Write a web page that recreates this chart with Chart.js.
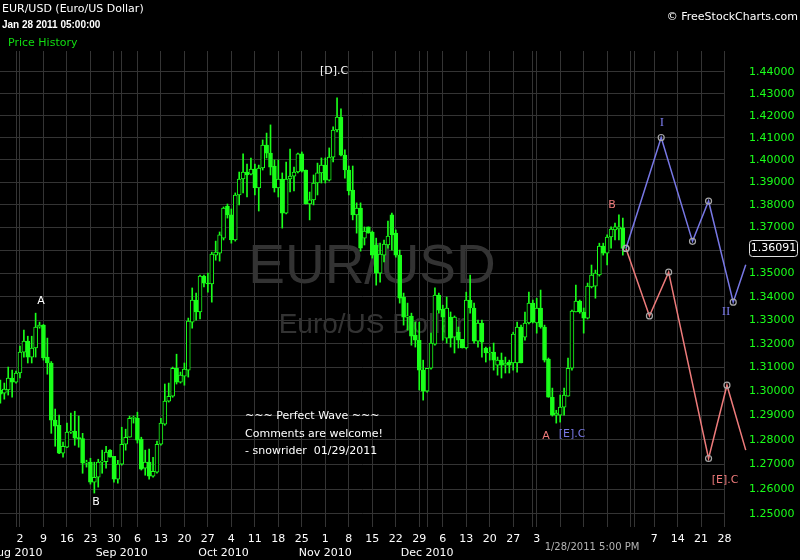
<!DOCTYPE html>
<html>
<head>
<meta charset="utf-8">
<title>EUR/USD (Euro/US Dollar)</title>
<script src="https://cdn.jsdelivr.net/npm/chart.js@4.4.0/dist/chart.umd.min.js"></script>
<style>
  html, body { margin: 0; padding: 0; background: #000; }
  #wrap { width: 800px; height: 560px; position: relative; background: #000; }
</style>
</head>
<body>
<div id="wrap"><canvas id="fxChart"></canvas></div>
<script>
// --- data: daily EUR/USD bars, 6 slots a week (Sun..Fri), slot 1 = Mon 2 Aug 2010 ---
const firstSlot = -4;

const opens = [
  1.3006, 1.2993, 1.3006, 1.3056, 1.3039, 1.3077, 1.3165, 1.3211, 1.3144, 1.3182,
  1.3271, 1.3279, 1.3144, 1.3119, 1.2881, 1.2860, 1.2746, 1.2770, 1.2832, 1.2836,
  1.2807, 1.2805, 1.2705, 1.2709, 1.2628, 1.2648, 1.2709, 1.2711, 1.2758, 1.2733,
  1.2640, 1.2701, 1.2782, 1.2811, 1.2889, 1.2889, 1.2803, 1.2685, 1.2709, 1.2652,
  1.2668, 1.2782, 1.2865, 1.2960, 1.2980, 1.3097, 1.3039, 1.3064, 1.3089, 1.3292,
  1.3386, 1.3335, 1.3489, 1.3459, 1.3455, 1.3580, 1.3589, 1.3654, 1.3795, 1.3756,
  1.3646, 1.3844, 1.3915, 1.3946, 1.3937, 1.3959, 1.3875, 1.3964, 1.4067, 1.4031,
  1.3973, 1.3875, 1.3915, 1.3764, 1.3915, 1.3928, 1.3946, 1.4027, 1.3955, 1.3804,
  1.3822, 1.3897, 1.3942, 1.3977, 1.3910, 1.4013, 1.4135, 1.4194, 1.4022, 1.3955,
  1.3866, 1.3756, 1.3786, 1.3654, 1.3703, 1.3681, 1.3624, 1.3502, 1.3580, 1.3624,
  1.3756, 1.3676, 1.3580, 1.3399, 1.3313, 1.3318, 1.3237, 1.3215, 1.3089, 1.3001,
  1.3097, 1.3198, 1.3407, 1.3347, 1.3224, 1.3313, 1.3228, 1.3249, 1.3219, 1.3182,
  1.3386, 1.3352, 1.3211, 1.3288, 1.3182, 1.3161, 1.3165, 1.3110, 1.3131, 1.3110,
  1.3123, 1.3119, 1.3119, 1.3271, 1.3228, 1.3288, 1.3373, 1.3288, 1.3352, 1.3271,
  1.3135, 1.2976, 1.2902, 1.2902, 1.2935, 1.2980, 1.3097, 1.3335, 1.3382, 1.3335,
  1.3309, 1.3442, 1.3446, 1.3494, 1.3619, 1.3589, 1.3659, 1.3690, 1.3694, 1.3699
];
const highs = [
  1.3047, 1.3035, 1.3102, 1.3089, 1.3085, 1.3190, 1.3258, 1.3232, 1.3232, 1.3330,
  1.3292, 1.3282, 1.3224, 1.3125, 1.2927, 1.2902, 1.2791, 1.2869, 1.2910, 1.2918,
  1.2898, 1.2827, 1.2717, 1.2725, 1.2709, 1.2721, 1.2758, 1.2774, 1.2760, 1.2733,
  1.2717, 1.2852, 1.2844, 1.2898, 1.2898, 1.2914, 1.2811, 1.2758, 1.2762, 1.2729,
  1.2795, 1.2889, 1.3031, 1.3035, 1.3102, 1.3156, 1.3081, 1.3119, 1.3309, 1.3438,
  1.3416, 1.3494, 1.3494, 1.3502, 1.3593, 1.3641, 1.3681, 1.3791, 1.3804, 1.3782,
  1.3853, 1.3946, 1.4027, 1.3982, 1.4009, 1.3982, 1.3977, 1.4090, 1.4121, 1.4158,
  1.4000, 1.4000, 1.3942, 1.3991, 1.4049, 1.3968, 1.4031, 1.4036, 1.3955, 1.3857,
  1.3933, 1.3986, 1.4009, 1.4009, 1.4054, 1.4149, 1.4281, 1.4231, 1.4045, 1.3973,
  1.3973, 1.3809, 1.3809, 1.3703, 1.3703, 1.3685, 1.3654, 1.3632, 1.3646, 1.3729,
  1.3764, 1.3690, 1.3602, 1.3416, 1.3373, 1.3330, 1.3292, 1.3292, 1.3131, 1.3097,
  1.3245, 1.3438, 1.3416, 1.3364, 1.3399, 1.3335, 1.3318, 1.3271, 1.3219, 1.3420,
  1.3494, 1.3373, 1.3300, 1.3300, 1.3186, 1.3186, 1.3203, 1.3144, 1.3161, 1.3144,
  1.3131, 1.3249, 1.3292, 1.3279, 1.3335, 1.3420, 1.3386, 1.3394, 1.3429, 1.3279,
  1.3140, 1.3014, 1.2922, 1.2985, 1.3014, 1.3140, 1.3343, 1.3450, 1.3386, 1.3352,
  1.3459, 1.3537, 1.3515, 1.3632, 1.3632, 1.3668, 1.3703, 1.3720, 1.3756, 1.3742
];
const lows = [
  1.2951, 1.2968, 1.2985, 1.2976, 1.3035, 1.3056, 1.3144, 1.3119, 1.3119, 1.3144,
  1.3266, 1.3131, 1.3072, 1.2827, 1.2774, 1.2744, 1.2729, 1.2768, 1.2827, 1.2778,
  1.2770, 1.2664, 1.2689, 1.2620, 1.2584, 1.2608, 1.2664, 1.2685, 1.2729, 1.2628,
  1.2624, 1.2697, 1.2758, 1.2811, 1.2869, 1.2787, 1.2677, 1.2656, 1.2640, 1.2648,
  1.2664, 1.2778, 1.2860, 1.2956, 1.2976, 1.3031, 1.3035, 1.3026, 1.3060, 1.3266,
  1.3300, 1.3305, 1.3442, 1.3420, 1.3377, 1.3558, 1.3554, 1.3646, 1.3742, 1.3632,
  1.3641, 1.3800, 1.3853, 1.3835, 1.3933, 1.3844, 1.3773, 1.3955, 1.4009, 1.3933,
  1.3857, 1.3835, 1.3698, 1.3760, 1.3857, 1.3862, 1.3942, 1.3946, 1.3804, 1.3734,
  1.3800, 1.3844, 1.3897, 1.3897, 1.3906, 1.3991, 1.4126, 1.4018, 1.3919, 1.3844,
  1.3734, 1.3676, 1.3597, 1.3624, 1.3676, 1.3567, 1.3450, 1.3463, 1.3550, 1.3610,
  1.3602, 1.3571, 1.3373, 1.3279, 1.3258, 1.3194, 1.3186, 1.3006, 1.2964, 1.2997,
  1.3093, 1.3194, 1.3330, 1.3215, 1.3203, 1.3186, 1.3161, 1.3182, 1.3182, 1.3178,
  1.3330, 1.3203, 1.3186, 1.3144, 1.3123, 1.3131, 1.3089, 1.3068, 1.3056, 1.3077,
  1.3077, 1.3089, 1.3081, 1.3119, 1.3215, 1.3284, 1.3288, 1.3245, 1.3266, 1.3123,
  1.2976, 1.2898, 1.2869, 1.2873, 1.2902, 1.2980, 1.3089, 1.3335, 1.3330, 1.3245,
  1.3305, 1.3438, 1.3394, 1.3489, 1.3580, 1.3537, 1.3610, 1.3646, 1.3646, 1.3580
];
const closes = [
  1.2989, 1.3010, 1.3056, 1.3039, 1.3077, 1.3165, 1.3211, 1.3144, 1.3182, 1.3271,
  1.3279, 1.3140, 1.3119, 1.2881, 1.2856, 1.2746, 1.2774, 1.2832, 1.2836, 1.2807,
  1.2805, 1.2705, 1.2707, 1.2628, 1.2648, 1.2709, 1.2711, 1.2750, 1.2729, 1.2640,
  1.2701, 1.2782, 1.2811, 1.2889, 1.2893, 1.2799, 1.2681, 1.2709, 1.2652, 1.2672,
  1.2782, 1.2869, 1.2960, 1.2980, 1.3097, 1.3039, 1.3068, 1.3093, 1.3296, 1.3386,
  1.3335, 1.3489, 1.3459, 1.3455, 1.3584, 1.3593, 1.3668, 1.3786, 1.3756, 1.3646,
  1.3844, 1.3915, 1.3946, 1.3933, 1.3959, 1.3875, 1.3964, 1.4067, 1.4031, 1.3968,
  1.3875, 1.3915, 1.3764, 1.3915, 1.3928, 1.3946, 1.4027, 1.3950, 1.3804, 1.3822,
  1.3897, 1.3942, 1.3977, 1.3910, 1.4013, 1.4135, 1.4194, 1.4022, 1.3955, 1.3862,
  1.3756, 1.3786, 1.3610, 1.3685, 1.3676, 1.3580, 1.3502, 1.3584, 1.3628, 1.3663,
  1.3668, 1.3580, 1.3394, 1.3313, 1.3318, 1.3232, 1.3215, 1.3089, 1.3001, 1.3097,
  1.3203, 1.3407, 1.3343, 1.3313, 1.3352, 1.3224, 1.3313, 1.3215, 1.3182, 1.3386,
  1.3352, 1.3211, 1.3288, 1.3207, 1.3161, 1.3165, 1.3131, 1.3131, 1.3110, 1.3119,
  1.3110, 1.3241, 1.3271, 1.3119, 1.3288, 1.3373, 1.3292, 1.3352, 1.3271, 1.3131,
  1.2976, 1.2902, 1.2910, 1.2935, 1.2985, 1.3097, 1.3339, 1.3382, 1.3335, 1.3309,
  1.3446, 1.3494, 1.3502, 1.3619, 1.3589, 1.3659, 1.3694, 1.3703, 1.3703, 1.36091
];

// Elliott wave projections drawn after the last bar
const waveUpSlots = [155.8, 164.8, 172.8, 176.9, 183.2, 186.4];
const waveUpPrices = [1.36091, 1.4101, 1.3640, 1.3817, 1.3377, 1.3538];
const waveDownSlots = [155.8, 161.8, 166.7, 176.9, 181.6, 186.4];
const waveDownPrices = [1.36091, 1.3318, 1.3506, 1.2724, 1.3026, 1.2758];

// axis ticks
const weekSlots = [1, 7, 13, 19, 25, 31, 37, 43, 49, 55, 61, 67, 73, 79, 85, 91,
  97, 103, 109, 115, 121, 127, 133, 139, 145, 151, 157, 163, 169, 175, 181];
const weekLabels = ['2', '9', '16', '23', '30', '6', '13', '20', '27', '4', '11', '18',
  '25', '1', '8', '15', '22', '29', '6', '13', '20', '27', '3', '', '', '', '', '7',
  '14', '21', '28'];
const monthSlots = [0, 27, 53, 79, 105, 132, 158];
const monthLabels = ['Aug 2010', 'Sep 2010', 'Oct 2010', 'Nov 2010', 'Dec 2010', '', ''];
const priceTicks = [1.25, 1.26, 1.27, 1.28, 1.29, 1.30, 1.31, 1.32, 1.33, 1.34,
  1.35, 1.36, 1.37, 1.38, 1.39, 1.40, 1.41, 1.42, 1.43, 1.44];

// visible window of the two axes
const slotMin = -4.1, slotMax = 181.1;
const priceMin = 1.2448, priceMax = 1.4497;

// --- styles ---
const GREEN = '#1aff1a';
const GRID = '#343434';
const BLUE = '#7878e6';
const SALMON = '#ee7b7b';
const FONT = 'DejaVu Sans';

// texts on top of the chart (pixel positions)
const notes = [
  { text: 'EUR/USD (Euro/US Dollar)', x: 2, y: 9, color: '#fff', font: '11px ' + FONT, align: 'left' },
  { text: 'Jan 28 2011 05:00:00', x: 2, y: 25, color: '#fff', font: 'bold 10px "Liberation Sans"', align: 'left' },
  { text: 'Price History', x: 8, y: 43, color: '#11dd11', font: '11px ' + FONT, align: 'left' },
  { text: '\u00a9 FreeStockCharts.com', x: 798, y: 17, color: '#fff', font: '11px ' + FONT, align: 'right' },
  { text: '~~~ Perfect Wave ~~~', x: 245, y: 416, color: '#fff', font: '11px ' + FONT, align: 'left' },
  { text: 'Comments are welcome!', x: 245, y: 434, color: '#fff', font: '11px ' + FONT, align: 'left' },
  { text: '- snowrider  01/29/2011', x: 245, y: 451, color: '#fff', font: '11px ' + FONT, align: 'left' },
  { text: 'A', x: 41, y: 301, color: '#fff', font: '11px ' + FONT, align: 'center' },
  { text: 'B', x: 96, y: 502, color: '#fff', font: '11px ' + FONT, align: 'center' },
  { text: '[D].C', x: 334, y: 71, color: '#fff', font: '11px ' + FONT, align: 'center' },
  { text: 'A', x: 546, y: 436, color: SALMON, font: '11px ' + FONT, align: 'center' },
  { text: '[E].C', x: 572, y: 434, color: BLUE, font: '11px ' + FONT, align: 'center' },
  { text: 'B', x: 612, y: 205, color: SALMON, font: '11px ' + FONT, align: 'center' },
  { text: 'I', x: 662, y: 123, color: BLUE, font: '13px "Liberation Serif"', align: 'center' },
  { text: 'II', x: 726, y: 312, color: BLUE, font: '13px "Liberation Serif"', align: 'center' },
  { text: '[E].C', x: 725, y: 480, color: SALMON, font: '11px ' + FONT, align: 'center' },
  { text: '1/28/2011 5:00 PM', x: 592, y: 547, color: '#b4b4b4', font: '10px ' + FONT, align: 'center' }
];

// watermark behind the bars, notes + last price box on top
let savedRight = null;
const textPlugin = {
  id: 'fxTexts',
  beforeDatasetsDraw(chart) {
    const ctx = chart.ctx;
    ctx.save();
    ctx.fillStyle = '#333';
    ctx.textAlign = 'center';
    ctx.textBaseline = 'alphabetic';
    ctx.font = '55px "Liberation Sans"';
    ctx.fillText('EUR/USD', 372, 283);
    ctx.font = '28px "Liberation Sans"';
    ctx.fillText('Euro/US Dollar', 372, 333);
    ctx.restore();
    // let the wave points past the last grid line be drawn too
    savedRight = chart.chartArea.right;
    chart.chartArea.right = 747;
  },
  afterDatasetsDraw(chart) {
    if (savedRight !== null) chart.chartArea.right = savedRight;
  },
  afterDraw(chart) {
    const ctx = chart.ctx;
    ctx.save();
    ctx.textBaseline = 'middle';
    notes.forEach(n => {
      ctx.font = n.font;
      ctx.fillStyle = n.color;
      ctx.textAlign = n.align;
      ctx.fillText(n.text, n.x, n.y);
    });

    // last price box on the price axis
    const last = closes[closes.length - 1];
    const y = Math.round(chart.scales.y.getPixelForValue(last)) + 0.5;
    ctx.beginPath();
    ctx.roundRect(749.5, y - 8, 48, 16, 3);
    ctx.fillStyle = '#000';
    ctx.fill();
    ctx.strokeStyle = '#e0e0e0';
    ctx.lineWidth = 1;
    ctx.stroke();
    ctx.fillStyle = '#fff';
    ctx.font = '11px ' + FONT;
    ctx.textAlign = 'center';
    ctx.fillText(last.toFixed(5), 773.5, y);
    ctx.restore();
  }
};

const slots = opens.map((_, n) => firstSlot + n);
const wickData = slots.map((s, n) => ({ x: s, y: [lows[n], highs[n]] }));
const bodyData = slots.map((s, n) => ({ x: s, y: [opens[n], closes[n]] }));
const isUp = n => closes[n] >= opens[n];

function waveData(xs, ys) {
  return xs.map((x, k) => ({ x: x, y: ys[k] }));
}

const lastPoint = ctx => ctx.dataIndex === ctx.dataset.data.length - 1;

// bounds are forced in callbacks (not min/max options) so the wave lines keep
// their points past the right edge
const slotBounds = s => { s.min = slotMin; s.max = slotMax; };
const weekTicks = s => { s.ticks = weekSlots.map(v => ({ value: v })); slotBounds(s); };
const monthTicks = s => { s.ticks = monthSlots.map(v => ({ value: v })); slotBounds(s); };
const priceTicksCb = s => { s.ticks = priceTicks.map(v => ({ value: v })); s.min = priceMin; s.max = priceMax; };

const ctx = document.getElementById('fxChart').getContext('2d');
new Chart(ctx, {
  type: 'bar',
  data: {
    datasets: [
      {
        type: 'line', label: 'Wave up', data: waveData(waveUpSlots, waveUpPrices),
        borderColor: BLUE, borderWidth: 1.5, tension: 0, clip: false, order: 0,
        pointRadius: c => lastPoint(c) ? 0 : 3, pointBorderColor: '#a8a8a8',
        pointBackgroundColor: 'rgba(0,0,0,0)', pointBorderWidth: 1.2
      },
      {
        type: 'line', label: 'Wave down', data: waveData(waveDownSlots, waveDownPrices),
        borderColor: SALMON, borderWidth: 1.5, tension: 0, clip: false, order: 0,
        pointRadius: c => lastPoint(c) ? 0 : 3, pointBorderColor: '#a8a8a8',
        pointBackgroundColor: 'rgba(0,0,0,0)', pointBorderWidth: 1.2
      },
      {
        label: 'Bodies', data: bodyData, grouped: false, order: 1,
        barThickness: 4, minBarLength: 1, borderWidth: 1, borderSkipped: false,
        borderColor: GREEN,
        backgroundColor: c => isUp(c.dataIndex) ? '#000' : GREEN
      },
      {
        label: 'Wicks', data: wickData, grouped: false, order: 2,
        barThickness: 1, borderWidth: 0, backgroundColor: GREEN
      }
    ]
  },
  options: {
    responsive: true,
    maintainAspectRatio: false,
    animation: false,
    events: [],
    layout: { autoPadding: false, padding: { top: 51, left: 0, right: 0, bottom: 0 } },
    plugins: { legend: { display: false }, tooltip: { enabled: false } },
    scales: {
      x: {
        type: 'linear', position: 'bottom', weight: 0, offset: false, bounds: 'data',
        afterDataLimits: slotBounds,
        afterBuildTicks: weekTicks,
        afterFit: s => { s.height = 20; s.paddingLeft = 0; s.paddingRight = 0; },
        grid: { color: GRID, drawTicks: false, offset: false },
        border: { display: false },
        ticks: {
          color: '#fff', font: { family: FONT, size: 11 }, padding: 6,
          autoSkip: false, maxRotation: 0, minRotation: 0,
          callback: (v, i) => weekLabels[i]
        }
      },
      x2: {
        type: 'linear', position: 'bottom', weight: 1, offset: false, bounds: 'data',
        afterDataLimits: slotBounds,
        afterBuildTicks: monthTicks,
        afterFit: s => { s.height = 13; s.paddingLeft = 0; s.paddingRight = 0; },
        grid: { color: c => c.index === 2 ? 'rgba(0,0,0,0)' : GRID, drawTicks: false, offset: false },
        border: { display: false },
        ticks: {
          color: '#fff', font: { family: FONT, size: 11 }, padding: 0,
          autoSkip: false, maxRotation: 0, minRotation: 0,
          callback: (v, i) => monthLabels[i]
        }
      },
      y: {
        type: 'logarithmic', position: 'right', bounds: 'data',
        min: priceMin, max: priceMax,
        afterBuildTicks: priceTicksCb,
        afterFit: s => { s.width = 75; s.paddingTop = 0; s.paddingBottom = 0; },
        grid: { color: GRID, drawTicks: false },
        border: { display: false },
        ticks: {
          color: GREEN, font: { family: FONT, size: 11 }, padding: 24,
          autoSkip: false, crossAlign: 'near',
          callback: v => Number(v).toFixed(5)
        }
      }
    }
  },
  plugins: [textPlugin]
});
</script>
</body>
</html>
